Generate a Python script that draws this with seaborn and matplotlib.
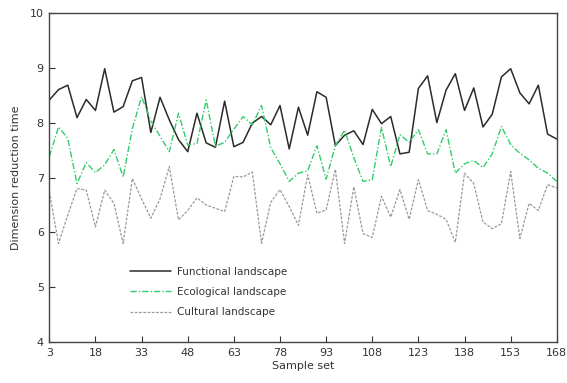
import numpy as np
import pandas as pd
import matplotlib
matplotlib.use("Agg")
import matplotlib.pyplot as plt
import seaborn as sns

sample_set = list(range(3, 169, 3))

functional = [8.41, 8.60, 8.68, 8.09, 8.42, 8.22, 8.98, 8.19, 8.29, 8.76,
              8.82, 7.82, 8.46, 8.05, 7.69, 7.47, 8.17, 7.63, 7.55, 8.39,
              7.56, 7.64, 7.99, 8.11, 7.96, 8.31, 7.52, 8.28, 7.77, 8.56,
              8.46, 7.58, 7.77, 7.85, 7.60, 8.24, 7.98, 8.11, 7.43, 7.46,
              8.62, 8.85, 8.00, 8.59, 8.89, 8.22, 8.63, 7.92, 8.15, 8.83,
              8.98, 8.54, 8.34, 8.68, 7.79, 7.70]

ecological = [7.38, 7.92, 7.71, 6.89, 7.27, 7.09, 7.23, 7.51, 7.01, 7.89,
              8.47, 8.03, 7.75, 7.47, 8.17, 7.59, 7.62, 8.41, 7.57, 7.64,
              7.88, 8.11, 7.96, 8.31, 7.54, 7.25, 6.93, 7.08, 7.12, 7.58,
              6.97, 7.58, 7.86, 7.36, 6.93, 6.96, 7.91, 7.20, 7.78, 7.64,
              7.87, 7.43, 7.43, 7.87, 7.08, 7.25, 7.31, 7.18, 7.43, 7.93,
              7.60, 7.44, 7.32, 7.17, 7.08, 6.93]

cultural = [6.74, 5.80, 6.32, 6.80, 6.77, 6.10, 6.77, 6.53, 5.80, 6.98,
            6.61, 6.26, 6.61, 7.20, 6.23, 6.40, 6.63, 6.50, 6.44, 6.38,
            7.02, 7.01, 7.10, 5.80, 6.55, 6.78, 6.47, 6.13, 7.05, 6.35,
            6.41, 7.15, 5.80, 6.83, 5.98, 5.91, 6.66, 6.28, 6.78, 6.24,
            6.96, 6.40, 6.33, 6.24, 5.82, 7.08, 6.89, 6.19, 6.07, 6.16,
            7.11, 5.89, 6.53, 6.40, 6.87, 6.81]

series_names = ["Functional landscape", "Ecological landscape", "Cultural landscape"]
x_ticks = [3, 18, 33, 48, 63, 78, 93, 108, 123, 138, 153, 168]
y_ticks = [4, 5, 6, 7, 8, 9, 10]

df = pd.DataFrame({"Sample set": sample_set,
                   series_names[0]: functional,
                   series_names[1]: ecological,
                   series_names[2]: cultural})

sns.set_style("ticks")
plt.rcParams["font.family"] = ["DejaVu Sans"]
plt.rcParams["font.size"] = 8

fig = plt.figure(figsize=(5.67, 3.83), dpi=100)
ax = fig.add_axes([0.087, 0.106, 0.895, 0.861])

styles = [
    dict(color="#2b2b2b", linewidth=1.1, linestyle="-"),
    dict(color="#33cc6b", linewidth=1.0, dashes=(4.5, 1.5, 1, 1.5)),
    dict(color="#9a9a9a", linewidth=0.9, dashes=(2.2, 1.2)),
]
for name, st in zip(series_names, styles):
    sns.lineplot(data=df, x="Sample set", y=name, ax=ax, label=name, **st)

ax.set_xlim(3, 168)
ax.set_ylim(4, 10)
ax.set_xticks(x_ticks)
ax.set_yticks(y_ticks)
ax.tick_params(direction="in", length=4, width=0.8, colors="#333333",
               labelcolor="#333333", labelsize=8, pad=4)
ax.set_xlabel("Sample set", fontsize=8, color="#333333", labelpad=2)
ax.set_ylabel("Dimension reduction time", fontsize=8, color="#333333", labelpad=6)
for s in ax.spines.values():
    s.set_visible(True)
    s.set_color("#444444")
    s.set_linewidth(1.0)

leg = ax.legend(loc="center left", bbox_to_anchor=(0.141, 0.153), frameon=False,
                fontsize=7.5, handlelength=3.9, handletextpad=0.6,
                labelspacing=0.98)
for t in leg.get_texts():
    t.set_color("#333333")

fig.savefig("out.png", dpi=100)
